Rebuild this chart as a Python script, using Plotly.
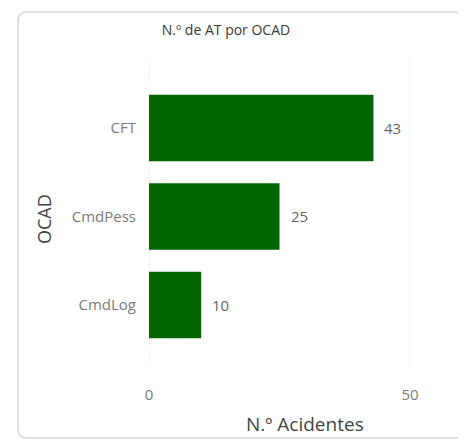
import plotly.graph_objects as go

categories = ["CFT", "CmdPess", "CmdLog"]
values = [43, 25, 10]
x_ticks = [0, 50]

# page has an 8px body margin, so figure coords = page coords - 8
OFF = 8
W, H = 466, 440
L, R, T, B = 149 - OFF, 466 - 410 + OFF, 60 - OFF, 440 - 360 + OFF
pw, ph = W - L - R, H - T - B

def px2x(px):
    return (px - OFF - L) / pw

def py2y(py):
    return 1 - (py - OFF - T) / ph

# rounded card border in paper coords (page pixels)
x0, x1, y0, y1, r = 18, 463, 12, 438, 9
path = (
    f"M {px2x(x0 + r)},{py2y(y0)} L {px2x(x1 - r)},{py2y(y0)} "
    f"Q {px2x(x1)},{py2y(y0)} {px2x(x1)},{py2y(y0 + r)} "
    f"L {px2x(x1)},{py2y(y1 - r)} Q {px2x(x1)},{py2y(y1)} {px2x(x1 - r)},{py2y(y1)} "
    f"L {px2x(x0 + r)},{py2y(y1)} Q {px2x(x0)},{py2y(y1)} {px2x(x0)},{py2y(y1 - r)} "
    f"L {px2x(x0)},{py2y(y0 + r)} Q {px2x(x0)},{py2y(y0)} {px2x(x0 + r)},{py2y(y0)} Z"
)

FONT = "Open Sans, DejaVu Sans, sans-serif"

fig = go.Figure(
    go.Bar(
        x=values,
        y=categories,
        orientation="h",
        marker=dict(color="#006400", line=dict(width=0)),
        width=0.75,
        hoverinfo="x+y",
    )
)

annotations = [
    dict(
        x=v,
        y=c,
        xref="x",
        yref="y",
        text=str(v),
        showarrow=False,
        xanchor="left",
        yanchor="middle",
        xshift=9,
        font=dict(size=15, color="#666666", family=FONT),
    )
    for c, v in zip(categories, values)
]
annotations += [
    dict(
        x=px2x(305), y=py2y(424), xref="paper", yref="paper",
        text="N.º Acidentes", showarrow=False,
        xanchor="center", yanchor="middle",
        font=dict(size=19, color="#444444", family=FONT),
    ),
    dict(
        x=px2x(44), y=py2y(219), xref="paper", yref="paper",
        text="OCAD", showarrow=False, textangle=-90,
        xanchor="center", yanchor="middle",
        font=dict(size=18, color="#444444", family=FONT),
    ),
]

shapes = [
    dict(
        type="path",
        path=path,
        xref="paper",
        yref="paper",
        line=dict(color="#d6d6d6", width=1.5),
        fillcolor="rgba(0,0,0,0)",
        layer="below",
    )
]
shapes += [
    dict(
        type="line", xref="x", yref="paper",
        x0=t, x1=t, y0=py2y(362), y1=py2y(58),
        line=dict(color="#dcdcdc", width=1, dash="dot"),
        layer="below",
    )
    for t in x_ticks
]

fig.update_layout(
    width=W,
    height=H,
    margin=dict(l=L, r=R, t=T, b=B, pad=0),
    paper_bgcolor="white",
    plot_bgcolor="white",
    font=dict(family=FONT, color="#666666"),
    showlegend=False,
    title=dict(
        text="N.º de AT por OCAD",
        x=(226 - OFF) / W,
        xanchor="center",
        y=1 - (30 - OFF) / H,
        yanchor="middle",
        font=dict(size=14, color="#383838", family=FONT),
    ),
    xaxis=dict(
        range=[0, 50],
        tickvals=x_ticks,
        showgrid=False,
        zeroline=False,
        showline=False,
        ticks="",
        tickfont=dict(size=15, color="#7a7a7a"),
        ticklabelstandoff=24,
    ),
    yaxis=dict(
        categoryorder="array",
        categoryarray=categories,
        range=[2.622, -0.768],
        showgrid=False,
        zeroline=False,
        showline=False,
        ticks="",
        tickfont=dict(size=15, color="#7a7a7a"),
        ticklabelstandoff=12,
    ),
    annotations=annotations,
    shapes=shapes,
)

fig.write_html("out.html")
